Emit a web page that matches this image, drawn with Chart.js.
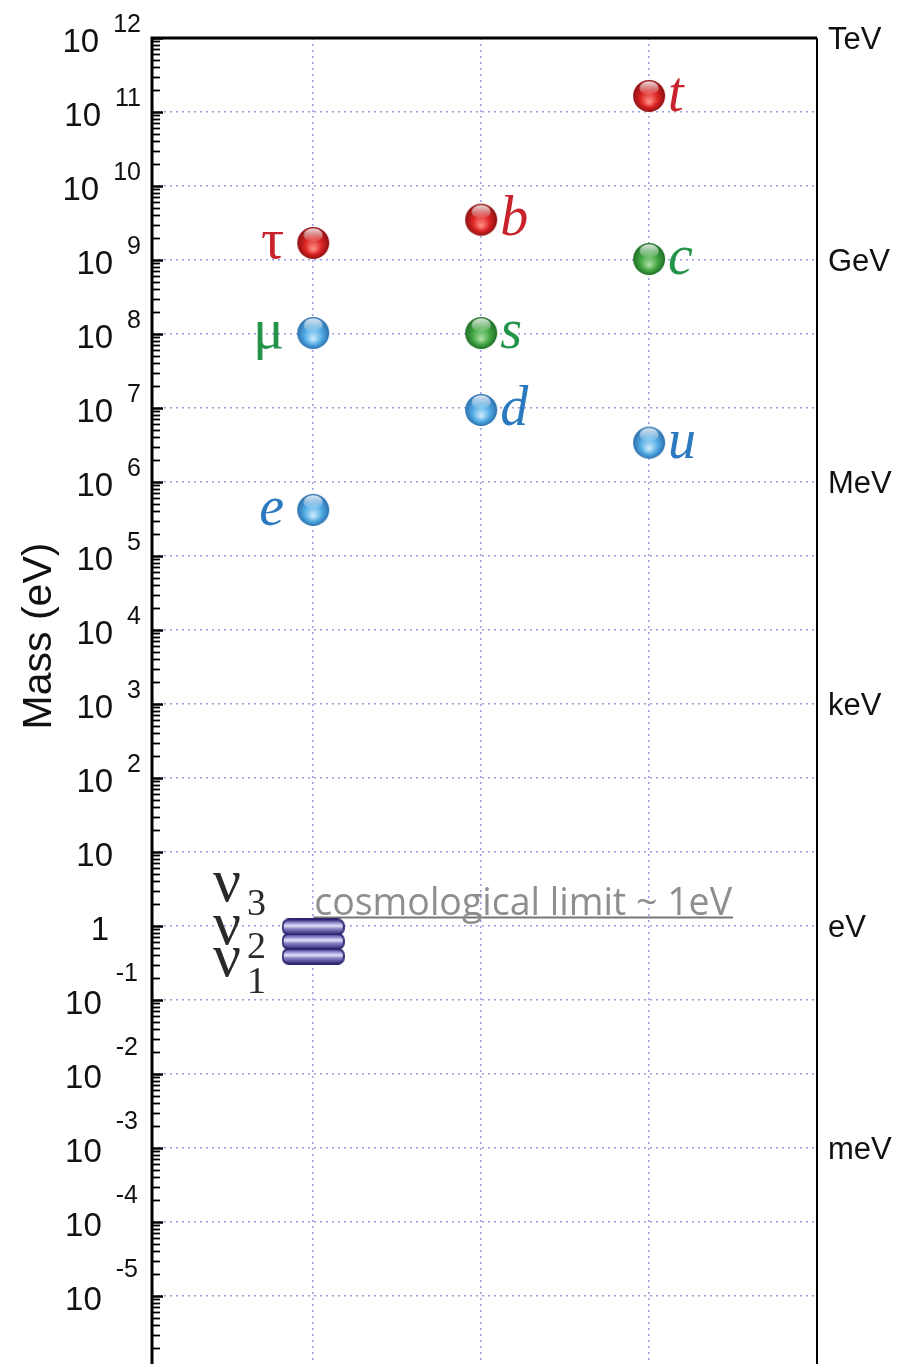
<!DOCTYPE html>
<html>
<head>
<meta charset="utf-8">
<title>Fermion masses</title>
<script src="https://cdn.jsdelivr.net/npm/chart.js@4.4.1/dist/chart.umd.min.js"></script>
<style>
  html, body { margin: 0; padding: 0; background: #fff; overflow: hidden; }
  #wrap { width: 916px; height: 1400px; }
  canvas { display: block; }
</style>
</head>
<body>
<div id="wrap"><canvas id="massChart" width="916" height="1400"></canvas></div>
<script>
// Charged fermion masses (eV), one column per family type
const columnX = [1, 2, 3]; // leptons, down-type quarks, up-type quarks

const leptonNames = ['e', 'μ', 'τ'];
const leptonMasses = [4.2e5, 1.03e8, 1.7e9];

const downNames = ['d', 's', 'b'];
const downMasses = [9.4e6, 1.03e8, 3.5e9];

const upNames = ['u', 'c', 't'];
const upMasses = [3.4e6, 1.03e9, 1.65e11];

// neutrino mass states, drawn as a stack under the cosmological bound
const neutrinoNames = ['1', '2', '3'];
const neutrinoMasses = [0.39, 0.62, 0.97];

const cosmoLabel = 'cosmological limit ~ 1eV';
const cosmoMass = 1.3;
const cosmoSpan = [1, 3.5];

// y axis: decades from 1e-6 to 1e12
const yMin = 1e-6;
const yMax = 1e12;
const labelExponents = [12, 11, 10, 9, 8, 7, 6, 5, 4, 3, 2, 1, 0, -1, -2, -3, -4, -5];
const unitLabels = ['TeV', 'GeV', 'MeV', 'keV', 'eV', 'meV'];
const unitMasses = [1e12, 1e9, 1e6, 1e3, 1, 1e-3];

const BLUE = ['#c4e6fb', '#55aee6', '#2a6fae'];
const GREEN = ['#a6dca0', '#44a844', '#1f6e26'];
const RED = ['#ff8a80', '#dc2424', '#8e0f12'];
const genText = ['#2b79bf', '#23944a', '#c8222c'];
const GRID = '#9c9ce0';
const SANS = '"Liberation Sans", Arial, sans-serif';
const SERIF = '"Liberation Serif", "DejaVu Serif", serif';

function makeBall(col) {
  const r = 16;
  const c = document.createElement('canvas');
  c.width = c.height = 2 * r + 2;
  const g = c.getContext('2d');
  const cx = r + 1, cy = r + 1;
  const body = g.createRadialGradient(cx, cy + 6, 1, cx, cy, r);
  body.addColorStop(0, col[0]);
  body.addColorStop(0.5, col[1]);
  body.addColorStop(1, col[2]);
  g.fillStyle = body;
  g.beginPath();
  g.arc(cx, cy, r, 0, Math.PI * 2);
  g.fill();
  const gloss = g.createLinearGradient(0, cy - r, 0, cy);
  gloss.addColorStop(0, 'rgba(255,255,255,0.9)');
  gloss.addColorStop(1, 'rgba(255,255,255,0)');
  g.fillStyle = gloss;
  g.beginPath();
  g.ellipse(cx, cy - r * 0.5, r * 0.6, r * 0.42, 0, 0, Math.PI * 2);
  g.fill();
  return c;
}

function makeBar() {
  const w = 61, h = 15;
  const c = document.createElement('canvas');
  c.width = w + 2; c.height = h + 2;
  const g = c.getContext('2d');
  const fill = g.createLinearGradient(0, 1, 0, h + 1);
  fill.addColorStop(0, '#3a3482');
  fill.addColorStop(0.25, '#9d95d8');
  fill.addColorStop(0.42, '#e4e8fb');
  fill.addColorStop(0.62, '#8a82c6');
  fill.addColorStop(1, '#302a76');
  g.fillStyle = fill;
  g.strokeStyle = '#2c2670';
  g.lineWidth = 1.8;
  g.beginPath();
  g.roundRect(1, 1, w, h, 6);
  g.fill();
  g.stroke();
  return c;
}

const blueBall = makeBall(BLUE), greenBall = makeBall(GREEN), redBall = makeBall(RED);
const nuBar = makeBar();

function pts(x, masses) {
  return masses.map(m => ({ x: x, y: m }));
}

// axis frame, inward tick marks and all the text around the plot
const decorations = {
  id: 'decorations',
  afterDraw(chart) {
    const { ctx, chartArea: a, scales } = chart;
    const y = scales.y, x = scales.x;
    ctx.save();

    // tick marks
    ctx.strokeStyle = '#000';
    y.ticks.forEach(t => {
      const py = Math.round(y.getPixelForValue(t.value)) + 0.5;
      ctx.lineWidth = t.major ? 2.5 : 1.8;
      ctx.beginPath();
      ctx.moveTo(a.left, py);
      ctx.lineTo(a.left + (t.major ? 11 : 8), py);
      ctx.stroke();
    });

    // frame
    ctx.lineWidth = 3;
    ctx.beginPath();
    ctx.moveTo(a.left, a.bottom);
    ctx.lineTo(a.left, a.top);
    ctx.lineTo(a.right, a.top);
    ctx.stroke();
    ctx.lineWidth = 2;
    ctx.beginPath();
    ctx.moveTo(a.right, a.top);
    ctx.lineTo(a.right, a.bottom);
    ctx.stroke();

    // decade labels
    ctx.fillStyle = '#111';
    ctx.textBaseline = 'alphabetic';
    ctx.textAlign = 'right';
    labelExponents.forEach(e => {
      const py = y.getPixelForValue(Math.pow(10, e));
      ctx.font = '33px ' + SANS;
      if (e === 0) { ctx.fillText('1', 109, py + 14); return; }
      if (e === 1) { ctx.fillText('10', 113, py + 14); return; }
      const sup = String(e);
      const supRight = e < 0 ? 138 : 141;
      ctx.font = '25px ' + SANS;
      const sw = ctx.measureText(sup).width;
      ctx.fillText(sup, supRight, py + (e < 0 ? -19 : -6));
      ctx.font = '33px ' + SANS;
      ctx.fillText('10', supRight - sw - 14, py + 14);
    });

    // energy units on the right
    ctx.textAlign = 'left';
    ctx.font = '31px ' + SANS;
    unitLabels.forEach((u, i) => {
      ctx.fillText(u, a.right + 11, y.getPixelForValue(unitMasses[i]) + 11);
    });

    // axis title
    ctx.save();
    ctx.translate(40, 636);
    ctx.rotate(-Math.PI / 2);
    ctx.textAlign = 'center';
    ctx.textBaseline = 'middle';
    ctx.font = '41px ' + SANS;
    ctx.fillText('Mass (eV)', 0, 0);
    ctx.restore();

    // particle names beside each ball
    const nameSets = [
      { idx: 0, names: leptonNames, side: -1 },
      { idx: 1, names: downNames, side: 1 },
      { idx: 2, names: upNames, side: 1 }
    ];
    nameSets.forEach(s => {
      const meta = chart.getDatasetMeta(s.idx);
      meta.data.forEach((p, j) => {
        const name = s.names[j];
        const greek = /[α-ω]/.test(name);
        ctx.font = (greek ? '58px ' : 'italic 56px ') + SERIF;
        ctx.fillStyle = genText[j];
        ctx.textAlign = s.side < 0 ? 'right' : 'left';
        ctx.fillText(name, p.x + (s.side < 0 ? -29 : 19), p.y + 15);
      });
    });

    // neutrino labels, stacked to the left of the bars
    const mid = chart.getDatasetMeta(3).data[1];
    const nuOffsets = [21, -11, -54];
    ctx.fillStyle = '#2a2a2a';
    ctx.textAlign = 'left';
    neutrinoNames.forEach((n, j) => {
      const cy = mid.y + nuOffsets[j];
      ctx.font = '62px ' + SERIF;
      ctx.fillText('ν', 213, cy + 14);
      ctx.font = '38px ' + SERIF;
      ctx.fillText(n, 247, cy + (j === 0 ? 31 : 28));
    });

    // cosmological bound caption
    const lx0 = x.getPixelForValue(cosmoSpan[0]);
    const lx1 = x.getPixelForValue(cosmoSpan[1]);
    const ly = y.getPixelForValue(cosmoMass);
    ctx.fillStyle = '#8e8e8e';
    let fs = 34;
    ctx.font = fs + 'px "Open Sans", "Noto Sans", sans-serif';
    const tw = ctx.measureText(cosmoLabel).width;
    fs = fs * (lx1 - lx0 - 2) / tw;
    ctx.font = fs.toFixed(1) + 'px "Open Sans", "Noto Sans", sans-serif';
    ctx.fillText(cosmoLabel, lx0 + 1, ly - 3);

    ctx.restore();
  }
};

new Chart(document.getElementById('massChart'), {
  type: 'scatter',
  data: {
    datasets: [
      { data: pts(columnX[0], leptonMasses), pointStyle: [blueBall, blueBall, redBall] },
      { data: pts(columnX[1], downMasses), pointStyle: [blueBall, greenBall, redBall] },
      { data: pts(columnX[2], upMasses), pointStyle: [blueBall, greenBall, redBall] },
      { data: pts(columnX[0], neutrinoMasses), pointStyle: nuBar },
      {
        type: 'line',
        data: cosmoSpan.map(v => ({ x: v, y: cosmoMass })),
        borderColor: '#767676',
        borderWidth: 2,
        pointRadius: 0,
        fill: false
      }
    ]
  },
  options: {
    responsive: false,
    animation: false,
    events: [],
    layout: { padding: { left: 152, top: 38, right: 99, bottom: 30 } },
    plugins: { legend: { display: false }, tooltip: { enabled: false } },
    scales: {
      x: {
        type: 'linear',
        min: 0.04,
        max: 4,
        afterBuildTicks: s => { s.ticks = columnX.map(v => ({ value: v })); },
        afterFit: s => { s.height = 0; },
        ticks: { display: false },
        grid: { color: GRID, lineWidth: 1.5, drawTicks: false },
        border: { display: false, dash: [2, 4] }
      },
      y: {
        type: 'logarithmic',
        min: yMin,
        max: yMax,
        afterBuildTicks: s => {
          const ticks = [];
          for (let e = -6; e <= 12; e++) {
            for (let k = 1; k <= 9; k++) {
              const v = k * Math.pow(10, e);
              if (v > yMax) break;
              ticks.push({ value: v, major: k === 1 });
            }
          }
          s.ticks = ticks;
        },
        afterFit: s => { s.width = 0; },
        ticks: { display: false },
        grid: {
          color: c => (c.tick && c.tick.major ? GRID : 'rgba(0,0,0,0)'),
          lineWidth: 1.5,
          drawTicks: false
        },
        border: { display: false, dash: [2, 4] }
      }
    }
  },
  plugins: [decorations]
});
</script>
</body>
</html>
